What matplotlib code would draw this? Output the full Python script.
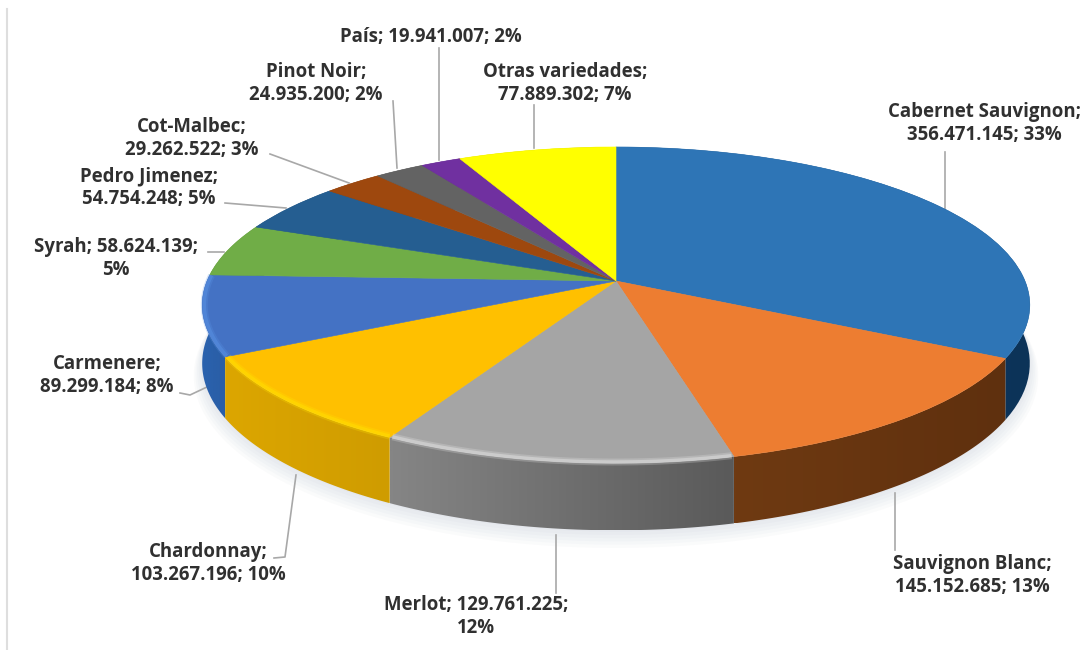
#!/usr/bin/env python3
"""Superficie de vides por variedad: torta 3D con perspectiva, dibujada con ax.pie."""
import numpy as np
import matplotlib

matplotlib.use("Agg")
import matplotlib.pyplot as plt
from matplotlib.patches import Polygon
from matplotlib.transforms import Transform
from matplotlib.colors import to_rgb

# ── data ───────────────────────────────────────────────────────────────────
VARIETIES = ["Cabernet Sauvignon", "Sauvignon Blanc", "Merlot", "Chardonnay", "Carmenere",
             "Syrah", "Pedro Jimenez", "Cot-Malbec", "Pinot Noir", "País", "Otras variedades"]
VALUES = [356471145, 145152685, 129761225, 103267196, 89299184,
          58624139, 54754248, 29262522, 24935200, 19941007, 77889302]
PERCENTS = [33, 13, 12, 10, 8, 5, 5, 3, 2, 2, 7]

# ── colours ────────────────────────────────────────────────────────────────
TOP_COLORS = ["#2e75b6", "#ed7d31", "#a5a5a5", "#ffc000", "#4472c4", "#70ad47",
              "#255e91", "#9e480e", "#636363", "#7030a0", "#ffff00"]
WALL_LEFT = ["#0f4272", "#6f3a12", "#858585", "#dca600", "#2a62ae", "#4d7a30",
             "#1a4368", "#70330a", "#464646", "#4f2270", "#b4b400"]
WALL_RIGHT = ["#0c3358", "#5f300e", "#5a5a5a", "#cf9c00", "#2a5ea6", "#4d7a30",
              "#1a4368", "#70330a", "#464646", "#4f2270", "#b4b400"]
RIM_COLORS = [None, None, "#e6e6e6", "#ffe200", "#5a94e6", None, None, None, None, None, None]
TEXT_COLOR = "#303030"
LEADER_COLOR = "#a8a8a8"

# ── label placement: (centre x, first line y, break after name or value) ──
LABEL_POS = [(984, 112, "name"), (972, 564, "name"), (476, 605, "value"), (208, 552, "name"),
             (107, 364, "name"), (116, 247, "value"), (149, 176, "name"), (192, 127, "name"),
             (316, 72, "name"), (431, 37, None), (565, 72, "name")]
LINE_GAP = 23

LEADERS = [
    [(945, 152), (945, 290)],
    [(895, 493), (895, 550)],
    [(556, 535), (556, 593)],
    [(296, 475), (285, 557), (274, 558)],
    [(180, 393), (190, 395), (207, 387)],
    [(208, 252), (224, 252)],
    [(225, 203), (286, 208)],
    [(270, 154), (349, 183)],
    [(393, 101), (397, 168)],
    [(439, 48), (439, 160)],
    [(534, 105), (534, 148)],
]

# ── perspective of the disc (fitted on the reference) ──────────────────────
CX, APEX_Y, KX = 616.0, 281.0, 409.0
PA, PC = -111.7, 0.152
DEPTH = 57.0


def project(u, v, z=0.0):
    w = 1 + PC * v
    return CX + KX * u / w, (PA * v + APEX_Y + z * DEPTH) / w


class DiscProjection(Transform):
    input_dims = 2
    output_dims = 2
    is_separable = False
    has_inverse = False

    def transform_non_affine(self, values):
        values = np.asarray(values, dtype=float)
        x, y = project(values[:, 0], values[:, 1])
        return np.column_stack([x, y])


def arc(theta1, theta2, radius=1.0, z=0.0, n=60):
    t = np.radians(np.linspace(theta1, theta2, n))
    return np.column_stack(project(radius * np.cos(t), radius * np.sin(t), z))


plt.rcParams["font.family"] = ["Open Sans", "DejaVu Sans"]
fig = plt.figure(figsize=(10.91, 6.5), dpi=100, facecolor="white")
ax = fig.add_axes([0, 0, 1, 1])

wedges, _ = ax.pie(VALUES, colors=TOP_COLORS, startangle=90, counterclock=False,
                   wedgeprops=dict(linewidth=0.4))
proj = DiscProjection() + ax.transData
for i, w in enumerate(wedges):
    w.set_transform(proj)
    w.set_edgecolor(TOP_COLORS[i])
    w.set_zorder(5)

# soft shadow under the disc
for k in range(6):
    ring = arc(0, 360, radius=1.0 + 0.004 * k, z=1.02 + 0.035 * k, n=180)
    ax.add_patch(Polygon(ring, closed=True, fc="#8090a8", ec="none", alpha=0.035, zorder=1))

# side walls, horizontal gradient per slice
for i, w in enumerate(wedges):
    top = arc(w.theta1, w.theta2)
    bottom = arc(w.theta1, w.theta2, z=1.0)
    outline = np.vstack([top, bottom[::-1]])
    patch = Polygon(outline, closed=True, fc="none", ec="none", zorder=3)
    ax.add_patch(patch)
    mix = np.linspace(0, 1, 64)[None, :, None]
    grad = (1 - mix) * np.array(to_rgb(WALL_LEFT[i])) + mix * np.array(to_rgb(WALL_RIGHT[i]))
    x0, x1 = outline[:, 0].min(), outline[:, 0].max()
    y0, y1 = outline[:, 1].min(), outline[:, 1].max()
    im = ax.imshow(grad, extent=(x0, x1, y1, y0), aspect="auto", zorder=3, interpolation="bilinear")
    im.set_clip_path(patch)

# bevel highlight on the rim of the front slices
for i, w in enumerate(wedges):
    if RIM_COLORS[i] is None:
        continue
    line = arc(w.theta1 + 0.2, w.theta2 - 0.2, radius=0.995)
    ax.plot(line[:, 0], line[:, 1], color=RIM_COLORS[i], lw=5, alpha=0.25, zorder=6,
            solid_capstyle="butt")
    ax.plot(line[:, 0], line[:, 1], color=RIM_COLORS[i], lw=2.5, alpha=0.45, zorder=6,
            solid_capstyle="butt")

for pts in LEADERS:
    xs, ys = zip(*pts)
    ax.plot(xs, ys, color=LEADER_COLOR, lw=1.2, zorder=2)

# thin frame line at the left of the picture
ax.plot([6.5, 6.5], [9, 650], color="#dedede", lw=1.5, zorder=0)

for name, val, pct, (lx, ly, brk) in zip(VARIETIES, VALUES, PERCENTS, LABEL_POS):
    num = f"{val:,}".replace(",", ".")
    if brk == "name":
        lines = [f"{name};", f"{num}; {pct}%"]
    elif brk == "value":
        lines = [f"{name}; {num};", f"{pct}%"]
    else:
        lines = [f"{name}; {num}; {pct}%"]
    for j, txt in enumerate(lines):
        ax.text(lx, ly + j * LINE_GAP, txt, ha="center", va="center", fontsize=13.4,
                fontweight="bold", color=TEXT_COLOR, zorder=8)

ax.set_aspect("auto")
ax.set_xlim(0, 1091)
ax.set_ylim(650, 0)
ax.axis("off")

fig.savefig("out.png", dpi=100, facecolor="white")
plt.close(fig)
